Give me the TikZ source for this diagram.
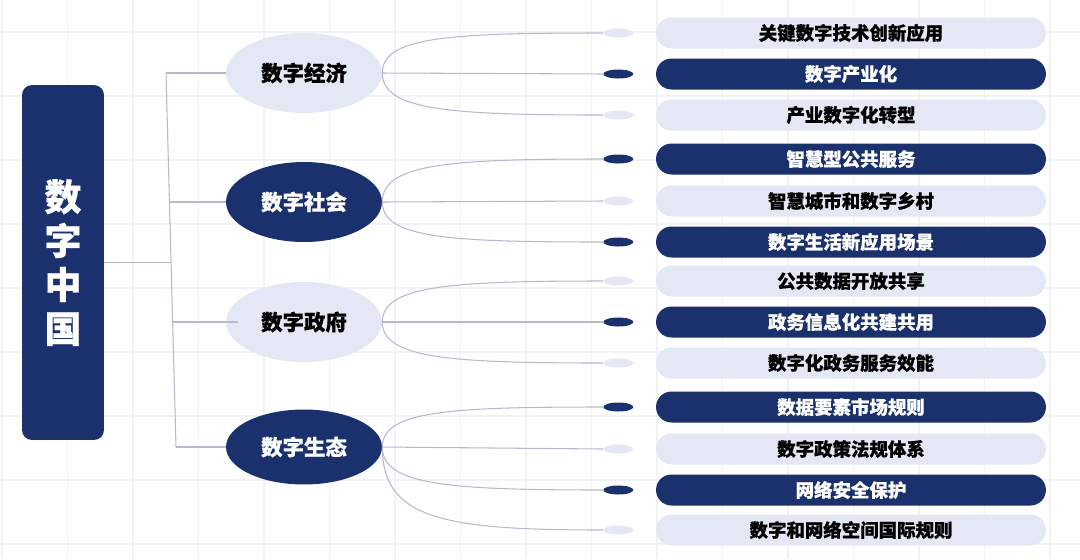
\documentclass[tikz,border=0pt]{standalone}
\usepackage{fontspec}
\setmainfont{Noto Sans CJK SC}[BoldFeatures={FakeBold=0.6}]
\usepackage{xcolor}
\usetikzlibrary{shapes.geometric, positioning}

\definecolor{navy}{RGB}{27,49,110}
\definecolor{pale}{RGB}{228,232,244}
\definecolor{linegray}{RGB}{180,186,202}
\definecolor{gridgray}{RGB}{241,242,246}

\tikzset{
	rootbox/.style={rectangle, fill=navy, rounded corners=2mm, minimum width=16.4mm, minimum height=71mm, inner sep=0pt, text=white, align=center, font=\fontsize{21}{25}\selectfont\bfseries},
	themedark/.style={ellipse, fill=navy, minimum width=31.2mm, minimum height=16mm, inner sep=0pt, text=white, font=\fontsize{12.2}{14}\selectfont\bfseries},
	themelight/.style={themedark, fill=pale, text=black},
	itemdark/.style={rectangle, fill=navy, rounded corners=3.1mm, minimum width=78mm, minimum height=6.2mm, inner sep=0pt, text=white, font=\fontsize{10.5}{12}\selectfont\bfseries},
	itemlight/.style={itemdark, fill=pale, text=black},
	dotdark/.style={ellipse, fill=navy, minimum width=6mm, minimum height=1.8mm, inner sep=0pt},
	dotlight/.style={dotdark, fill=pale},
	link/.style={draw=linegray, line width=0.6pt}
}

\begin{document}
\begin{tikzpicture}[x=0.02cm, y=-0.02cm]
		\useasboundingbox (0,0) rectangle (1080,559);
		% 背景网格
		\foreach \gx in {0,...,16} \draw[gridgray, line width=0.6pt] ({2+65.5*\gx},0) -- ({2+65.5*\gx},559);
		\foreach \gy in {0,...,8} \draw[gridgray, line width=0.6pt] (0,{32+64*\gy}) -- (1080,{32+64*\gy});
		% 根节点
		\node[rootbox] (root) at (63,262.5) {数\\字\\中\\国};
		% 四个主题
		\node[themelight] (econ) at (304,73) {数字经济};
		\node[themedark] (soc) at (304,202) {数字社会};
		\node[themelight] (gov) at (304,322) {数字政府};
		\node[themedark, minimum height=15mm] (eco) at (304,447) {数字生态};
		% 具体条目
		\node[itemlight] (i1) at (851,33) {关键数字技术创新应用};
		\node[itemdark] (i2) at (851,74) {数字产业化};
		\node[itemlight] (i3) at (851,115) {产业数字化转型};
		\node[itemdark] (i4) at (851,159) {智慧型公共服务};
		\node[itemlight] (i5) at (851,201) {智慧城市和数字乡村};
		\node[itemdark] (i6) at (851,242) {数字生活新应用场景};
		\node[itemlight] (i7) at (851,281) {公共数据开放共享};
		\node[itemdark] (i8) at (851,322) {政务信息化共建共用};
		\node[itemlight] (i9) at (851,363) {数字化政务服务效能};
		\node[itemdark] (i10) at (851,407) {数据要素市场规则};
		\node[itemlight] (i11) at (851,449) {数字政策法规体系};
		\node[itemdark] (i12) at (851,490) {网络安全保护};
		\node[itemlight] (i13) at (851,530) {数字和网络空间国际规则};
		% 条目前的小圆点
		\node[dotlight, left=4.4mm of i1] (d1) {};
		\node[dotdark, left=4.4mm of i2] (d2) {};
		\node[dotlight, left=4.4mm of i3] (d3) {};
		\node[dotdark, left=4.4mm of i4] (d4) {};
		\node[dotlight, left=4.4mm of i5] (d5) {};
		\node[dotdark, left=4.4mm of i6] (d6) {};
		\node[dotlight, left=4.4mm of i7] (d7) {};
		\node[dotdark, left=4.4mm of i8] (d8) {};
		\node[dotlight, left=4.4mm of i9] (d9) {};
		\node[dotdark, left=4.4mm of i10] (d10) {};
		\node[dotlight, left=4.4mm of i11] (d11) {};
		\node[dotdark, left=4.4mm of i12] (d12) {};
		\node[dotlight, left=4.4mm of i13] (d13) {};
		% 主干
		\coordinate (t1) at (166,73);
		\coordinate (t2) at (169.5,202);
		\coordinate (t3) at (172.7,322);
		\coordinate (t4) at (176,447);
		\coordinate (t0) at (171,262.5);
		\draw[link] (t1) -- (t4);
		\draw[link] (root.east) -- (t0);
		\draw[link] (t1) -- (econ.west);
		\draw[link] (t2) -- (soc.west);
		\draw[link] (t3) -- ([xshift=7]gov.west);
		\draw[link] (t4) -- (eco.west);
		% 主题到条目的连线
		\draw[link] (econ.east) .. controls +(0,-36) and +(-155,0) .. (d1.west);
		\draw[link] (econ.east) -- (d2.west);
		\draw[link] (econ.east) .. controls +(0,37) and +(-155,0) .. (d3.west);
		\draw[link] (soc.east) .. controls +(0,-38) and +(-155,0) .. (d4.west);
		\draw[link] (soc.east) -- (d5.west);
		\draw[link] (soc.east) .. controls +(0,36) and +(-155,0) .. (d6.west);
		\draw[link] (gov.east) .. controls +(0,-36) and +(-155,0) .. (d7.west);
		\draw[link] (gov.east) -- (d8.west);
		\draw[link] (gov.east) .. controls +(0,36) and +(-155,0) .. (d9.west);
		\draw[link] (eco.east) .. controls +(0,-36) and +(-155,0) .. (d10.west);
		\draw[link] (eco.east) -- (d11.west);
		\draw[link] (eco.east) .. controls +(0,38) and +(-155,0) .. (d12.west);
		\draw[link] (eco.east) .. controls +(0,72) and +(-160,0) .. (d13.west);
	\end{tikzpicture}
\end{document}
